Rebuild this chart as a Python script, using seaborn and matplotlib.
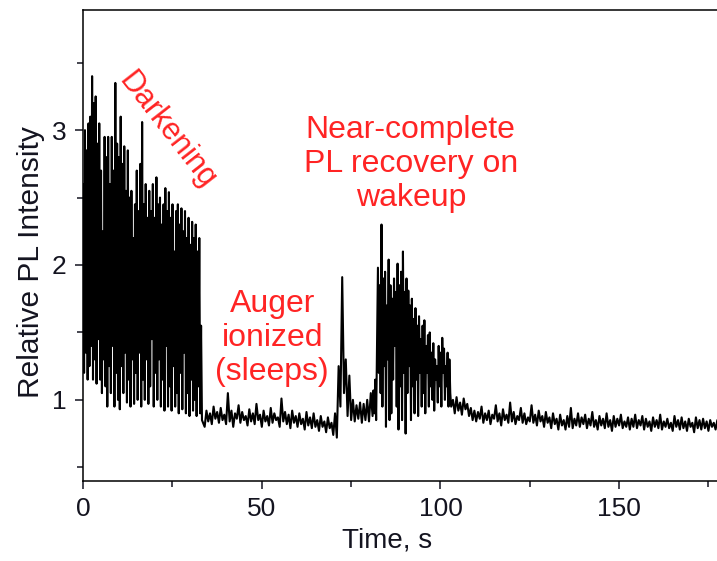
import numpy as np
import matplotlib
matplotlib.use('Agg')
import matplotlib.pyplot as plt
import seaborn as sns

# Relative PL intensity, split by regime.
# Each segment: start time (s), sample step (s), values.

# 0 - 33.25 s : blinking / darkening, every 0.25 s
BURST_START, BURST_DT = 0.0, 0.25
burst = [2.60, 1.20, 3.00, 1.35, 2.85, 1.15, 3.05, 1.25,
         3.10, 1.40, 3.40, 1.15, 3.20, 1.30, 3.25, 1.12,
         2.90, 1.45, 3.05, 1.15, 2.70, 1.05, 2.25, 1.30,
         2.95, 1.10, 2.80, 0.95, 2.95, 1.25, 2.60, 1.05,
         2.95, 1.40, 2.70, 0.95, 3.35, 1.20, 2.90, 1.00,
         2.80, 0.93, 3.10, 1.25, 2.75, 1.05, 2.88, 1.35,
         2.55, 0.98, 2.85, 1.15, 2.50, 0.95, 2.55, 1.30,
         2.20, 0.97, 2.45, 1.20, 2.70, 1.00, 2.40, 1.35,
         2.75, 0.95, 3.06, 1.15, 2.45, 1.00, 2.60, 1.30,
         2.35, 0.97, 2.55, 1.10, 2.40, 1.45, 2.60, 0.95,
         2.35, 1.20, 2.65, 1.00, 2.45, 1.30, 2.50, 0.95,
         2.30, 1.15, 2.45, 0.92, 2.57, 1.40, 2.40, 0.95,
         2.54, 1.10, 2.35, 0.92, 2.45, 1.25, 2.10, 0.95,
         2.40, 1.05, 2.45, 0.90, 2.30, 1.20, 2.42, 0.93,
         2.25, 1.35, 2.40, 0.90, 2.20, 1.05, 2.35, 0.88,
         2.15, 1.15, 2.32, 0.92, 2.20, 1.00, 2.30, 0.88,
         2.10, 1.10, 2.20, 0.90, 1.55, 0.85]

# 34 - 69.5 s : Auger ionized, sleeping
SLEEP_START, SLEEP_DT = 34.0, 0.5
sleep = [0.80, 0.92, 0.84, 0.90, 0.82, 0.95, 0.86, 0.91, 0.83, 0.94,
         0.85, 0.89, 0.82, 1.05, 0.84, 0.92, 0.80, 0.90, 0.86, 0.96,
         0.83, 0.91, 0.85, 0.88, 0.81, 0.93, 0.84, 0.90, 0.82, 0.97,
         0.85, 0.89, 0.80, 0.92, 0.84, 0.88, 0.81, 0.94, 0.83, 0.90,
         0.85, 0.87, 0.80, 1.01, 0.84, 0.91, 0.82, 0.89, 0.79, 0.92,
         0.83, 0.88, 0.80, 0.90, 0.82, 0.86, 0.78, 0.91, 0.81, 0.87,
         0.79, 0.90, 0.80, 0.85, 0.77, 0.88, 0.80, 0.84, 0.76, 0.87,
         0.79, 0.83]

# 70 - 80.5 s : short flash
SPIKE_START, SPIKE_DT = 70.0, 0.5
spike = [0.74, 0.90, 0.72, 1.25, 0.95, 1.91, 1.05, 1.30, 0.88, 1.18,
         0.85, 1.00, 0.84, 0.96, 0.86, 0.98, 0.83, 0.97, 0.85, 1.00,
         0.84, 1.05]

# 81 - 103 s : wakeup, every 0.25 s
WAKE_START, WAKE_DT = 81.0, 0.25
wakeup = [0.88, 1.07, 0.90, 1.15, 0.85, 1.40, 1.98, 1.20,
          1.85, 1.05, 2.30, 0.95, 1.90, 1.25, 1.95, 0.80,
          1.70, 1.30, 2.04, 0.85, 1.85, 0.90, 1.75, 1.15,
          1.90, 1.40, 1.80, 0.95, 2.01, 0.78, 1.85, 1.10,
          1.95, 0.85, 2.10, 1.20, 1.80, 0.75, 1.90, 1.05,
          1.81, 1.25, 1.70, 0.85, 1.75, 1.10, 1.60, 0.90,
          1.68, 1.15, 1.55, 0.88, 1.62, 1.20, 1.45, 0.95,
          1.55, 1.05, 1.59, 0.90, 1.40, 1.20, 1.48, 0.95,
          1.50, 1.10, 1.35, 1.00, 1.42, 0.92, 1.30, 1.15,
          1.25, 0.98, 1.40, 1.10, 1.35, 0.95, 1.46, 1.20,
          1.38, 1.00, 1.25, 1.10, 1.35, 0.95, 1.30, 1.05,
          0.95]

# 103.5 - 177.5 s : dim tail
TAIL_START, TAIL_DT = 103.5, 0.5
tail = [1.00, 0.90, 1.02, 0.92, 0.98, 0.89, 1.01, 0.93, 0.97, 0.88,
        0.94, 0.85, 0.92, 0.84, 0.91, 0.86, 0.95, 0.83, 0.90, 0.85,
        0.92, 0.82, 0.89, 0.86, 0.96, 0.84, 0.90, 0.81, 0.93, 0.85,
        0.89, 0.83, 0.98, 0.84, 0.91, 0.82, 0.88, 0.85, 0.94, 0.83,
        0.90, 0.82, 0.87, 0.84, 0.96, 0.83, 0.89, 0.81, 0.92, 0.84,
        0.88, 0.80, 0.91, 0.83, 0.87, 0.79, 0.90, 0.82, 0.86, 0.78,
        0.89, 0.81, 0.85, 0.78, 0.88, 0.80, 0.94, 0.79, 0.86, 0.81,
        0.90, 0.80, 0.87, 0.82, 0.89, 0.79, 0.86, 0.81, 0.91, 0.80,
        0.85, 0.78, 0.88, 0.81, 0.86, 0.79, 0.90, 0.80, 0.85, 0.77,
        0.88, 0.80, 0.86, 0.81, 0.89, 0.79, 0.84, 0.80, 0.87, 0.78,
        0.86, 0.80, 0.89, 0.79, 0.85, 0.81, 0.88, 0.78, 0.86, 0.80,
        0.84, 0.77, 0.87, 0.80, 0.85, 0.79, 0.89, 0.78, 0.84, 0.80,
        0.86, 0.79, 0.83, 0.77, 0.88, 0.80, 0.85, 0.78, 0.87, 0.79,
        0.84, 0.77, 0.86, 0.80, 0.83, 0.76, 0.87, 0.79, 0.85, 0.78,
        0.86, 0.79, 0.84, 0.77, 0.85, 0.80, 0.83, 0.78, 0.85]

X_TICKS = [0, 50, 100, 150]
Y_TICKS = [1, 2, 3]
RED = '#ff2424'
INK = '#141420'

segments = [(BURST_START, BURST_DT, burst), (SLEEP_START, SLEEP_DT, sleep),
            (SPIKE_START, SPIKE_DT, spike), (WAKE_START, WAKE_DT, wakeup),
            (TAIL_START, TAIL_DT, tail)]
time = np.concatenate([t0 + np.arange(len(v)) * dt for t0, dt, v in segments])
intensity = np.concatenate([np.array(v) for _, _, v in segments])

sns.set_style('ticks')
plt.rcParams['font.family'] = ['Liberation Sans', 'DejaVu Sans']

fig = plt.figure(figsize=(7.17, 5.61), dpi=100)
ax = fig.add_axes([0.116, 0.143, 0.884, 0.839])

sns.lineplot(x=time, y=intensity, ax=ax, color='black', linewidth=1.5,
             estimator=None, sort=False)

ax.set_xlim(0, 177.4)
ax.set_ylim(0.4, 3.89)
ax.set_xticks(X_TICKS)
ax.set_yticks(Y_TICKS)
ax.set_xticks([25, 75, 125, 175], minor=True)
ax.set_yticks([0.5, 1.5, 2.5, 3.5], minor=True)
ax.tick_params(which='major', direction='out', length=6, width=1.1,
               labelsize=19, colors=INK, pad=6)
ax.tick_params(which='minor', direction='out', length=4, width=1.1, colors=INK)
for side in ['left', 'bottom', 'top']:
    ax.spines[side].set_linewidth(1.1)
    ax.spines[side].set_color('black')
ax.spines['right'].set_visible(False)

ax.set_xlabel('Time, s', fontsize=20, color=INK)
ax.set_ylabel('Relative PL Intensity', fontsize=21.5, color=INK)
ax.xaxis.set_label_coords(0.48, -0.099)
ax.yaxis.set_label_coords(-0.06, 0.465)

ax.text(23.5, 3.0, 'Darkening', color=RED, fontsize=22, rotation=-52,
        ha='center', va='center', rotation_mode='anchor')
ax.text(91.7, 2.75, 'Near-complete\nPL recovery on\nwakeup', color=RED,
        fontsize=23, ha='center', va='center', linespacing=1.18)
ax.text(52.9, 1.46, 'Auger\nionized\n(sleeps)', color=RED, fontsize=23,
        ha='center', va='center', linespacing=1.18)

fig.savefig('out.png', dpi=100)
